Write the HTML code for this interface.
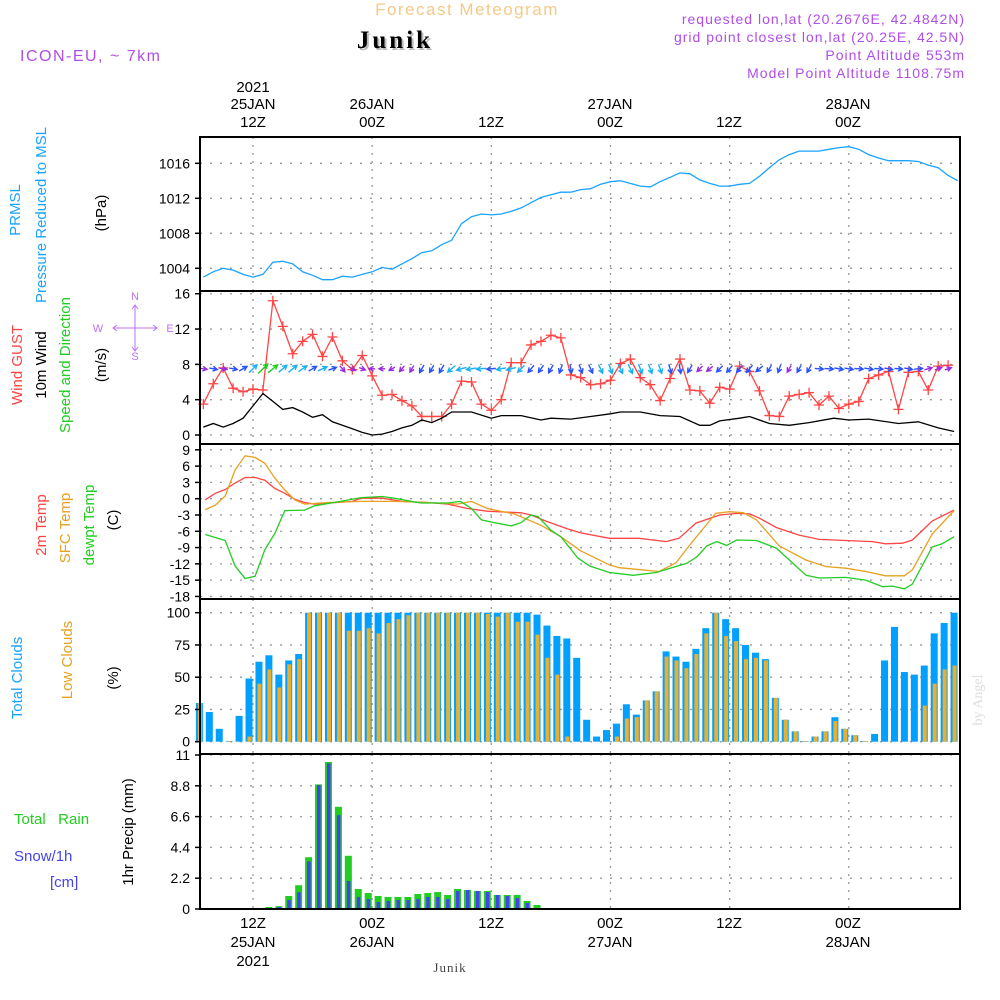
<!DOCTYPE html>
<html><head><meta charset="utf-8"><style>
html,body{margin:0;padding:0;background:#fff;}
svg{display:block;font-family:"Liberation Sans",sans-serif;}
</style></head><body>
<svg id="chart" width="1000" height="1000" viewBox="0 0 1000 1000">
<text x="467" y="15" text-anchor="middle" font-size="17" fill="#f5c98a" letter-spacing="1.5">Forecast Meteogram</text>
<text x="397" y="50" text-anchor="middle" font-size="25" font-weight="bold" fill="#bbb" font-family="Liberation Serif, serif" letter-spacing="3">Junik</text>
<text x="395" y="48" text-anchor="middle" font-size="25" font-weight="bold" fill="#000" font-family="Liberation Serif, serif" letter-spacing="3">Junik</text>
<text x="20" y="61" font-size="16" fill="#b04ee8" letter-spacing="1.5">ICON-EU, ~ 7km</text>
<g font-size="14" fill="#b04ee8" text-anchor="end" letter-spacing="1">
<text x="965" y="24">requested lon,lat (20.2676E, 42.4842N)</text>
<text x="965" y="42">grid point closest lon,lat (20.25E, 42.5N)</text>
<text x="965" y="60">Point Altitude 553m</text>
<text x="965" y="78">Model Point Altitude 1108.75m</text>
</g>
<g id="grid"></g>
<g id="marks"></g>
<g id="frames"></g>
<g id="labels"></g>
<g font-size="15" fill="#000" text-anchor="middle">
<text x="253" y="92">2021</text><text x="253" y="109">25JAN</text><text x="253" y="127">12Z</text>
<text x="372" y="109">26JAN</text><text x="372" y="127">00Z</text>
<text x="491" y="127">12Z</text>
<text x="610" y="109">27JAN</text><text x="610" y="127">00Z</text>
<text x="729" y="127">12Z</text>
<text x="848" y="109">28JAN</text><text x="848" y="127">00Z</text>
</g>
<g font-size="15" fill="#000" text-anchor="middle">
<text x="253" y="928">12Z</text><text x="253" y="947">25JAN</text><text x="253" y="966">2021</text>
<text x="372" y="928">00Z</text><text x="372" y="947">26JAN</text>
<text x="491" y="928">12Z</text>
<text x="610" y="928">00Z</text><text x="610" y="947">27JAN</text>
<text x="729" y="928">12Z</text>
<text x="848" y="928">00Z</text><text x="848" y="947">28JAN</text>
</g>
<text x="450" y="972" text-anchor="middle" font-size="13" font-family="Liberation Serif, serif" fill="#444" letter-spacing="1">Junik</text>
<text transform="rotate(-90 982 700)" x="982" y="700" text-anchor="middle" font-size="14" font-family="Liberation Serif, serif" fill="#ddd">by Angel</text>
<g font-size="15">
<text x="14" y="824" fill="#22cc22">Total &#160;&#160;Rain</text>
<text x="14" y="861" fill="#4444ee">Snow/1h</text>
<text x="50" y="887" fill="#4444ee">[cm]</text>
</g>
<g font-size="11" fill="#c070f0" text-anchor="middle">
<text x="135" y="300">N</text>
<text x="135" y="360">S</text>
<text x="98" y="332">W</text>
<text x="170" y="332">E</text>
<path d="M113 328H157M117 325L113 328L117 331M153 325L157 328L153 331M135 306V350M132 309L135 305L138 309M132 347L135 351L138 347" fill="none" stroke="#c070f0" stroke-width="1"/>
</g>
</svg>
<script>
const NS = "http://www.w3.org/2000/svg";
// ---------- data ----------
const pressHours = [7,8,9,10,11,12,13,14,15,16,17,18,19,20,21,22,23,24,25,26,27,28,29,30,31,32,33,34,35,36,37,38,39,40,41,42,43,44,45,46,47,48,49,50,51,52,53,54,55,56,57,58,59,60,61,62,63,64,65,66,67,68,69,70,71,72,73,74,75,76,77,78,79,80,81,82,83];
const pressVals = [1003.0,1003.6,1004.0,1003.8,1003.3,1003.0,1003.3,1004.7,1004.8,1004.5,1003.6,1003.2,1002.7,1002.7,1003.1,1003.0,1003.3,1003.6,1004.1,1003.9,1004.5,1005.1,1005.8,1006.0,1006.7,1007.2,1009.1,1009.9,1010.2,1010.1,1010.2,1010.5,1010.9,1011.5,1012.1,1012.4,1012.7,1012.7,1013.0,1013.1,1013.6,1013.9,1014.0,1013.7,1013.4,1013.3,1013.9,1014.4,1014.9,1014.8,1014.1,1013.7,1013.4,1013.4,1013.6,1013.7,1014.5,1015.5,1016.4,1017.0,1017.4,1017.4,1017.4,1017.6,1017.8,1017.9,1017.6,1017.0,1016.6,1016.3,1016.3,1016.3,1016.2,1015.8,1015.5,1014.6,1014.0];
const gustHours = [7,8,9,10,11,12,13,14,15,16,17,18,19,20,21,22,23,24,25,26,27,28,29,30,31,32,33,34,35,36,37,38,39,40,41,42,43,44,45,46,47,48,49,50,51,52,53,54,55,56,57,58,59,60,61,62,63,64,65,66,67,68,69,70,71,72,73,74,75,76,77,78,79,80,81,82];
const gustVals = [3.5,5.8,7.6,5.3,4.9,5.2,5.1,15.2,12.3,9.2,10.6,11.4,8.9,11.1,8.4,7.4,9.0,6.7,4.5,4.6,3.9,3.3,2.1,2.1,2.1,3.5,6.1,6.0,3.5,2.8,4.0,8.2,8.2,10.2,10.6,11.3,11.0,6.8,6.5,5.7,5.8,6.2,8.1,8.6,6.5,5.7,3.9,6.4,8.6,5.1,5.0,3.6,5.4,5.2,7.8,7.2,5.0,2.2,2.1,4.4,4.6,4.8,3.4,4.4,3.0,3.5,3.8,6.4,6.8,7.2,2.9,7.1,7.2,5.1,7.8,7.9];
const windHours = [7,8,9,10,11,13,14,15,16,17,18,19,20,21,22,23,24,25,26,27,28,29,30,31,32,34,36,37,39,41,42,44,46,48,49,51,53,55,57,58,59,61,62,64,66,68,70.5,72,74,77,79,81,82.6];
const windVals = [0.9,1.3,0.9,1.3,1.9,4.7,3.8,2.9,3.1,2.6,2.0,2.3,1.5,1.1,0.7,0.3,0.0,0.1,0.4,0.8,1.1,1.7,1.4,1.9,2.6,2.6,1.9,2.2,2.2,1.7,1.9,1.8,2.1,2.4,2.6,2.6,2.2,2.1,1.1,1.1,1.6,1.9,2.1,1.3,1.1,1.4,1.9,1.7,1.8,1.3,1.5,0.8,0.4];
const windDirs = [280,280,280,280,240,225,225,230,230,230,235,240,245,250,320,300,290,90,90,60,40,30,30,30,30,50,75,80,85,85,80,75,45,40,35,30,20,350,340,335,335,340,335,335,340,340,340,345,350,30,45,50,45,40,40,40,50,30,20,30,30,30,275,275,280,280,275,280,275,280,275,280,265,255,250,250];
const t2mHours = [7.2,8.2,9.2,10.2,11.2,12.2,13.2,14.2,15.2,16.2,17.2,18.2,22,22.9,25,27,29.6,31.6,33.6,35.6,39,40,41.6,43.6,45,47.9,50.9,53.6,54.9,56.6,59,60.7,62,63,64.7,67,69,71.7,74.4,75.7,77.4,78.4,80.4,82.6];
const t2mVals = [-0.2,1.0,1.7,2.9,3.9,3.9,3.4,1.9,1.0,-0.1,-0.7,-1.0,-0.5,0.1,0.1,-0.5,-0.7,-1.0,-1.8,-2.3,-2.6,-3.0,-4.2,-5.5,-6.3,-7.3,-7.3,-7.9,-7.3,-4.5,-3.0,-2.7,-2.8,-3.6,-5.3,-6.7,-7.5,-7.7,-7.9,-8.3,-8.2,-7.6,-4.1,-2.1];
const sfcHours = [7.2,8.2,9.2,10.2,11.2,12.2,13.2,14.2,15.2,16.2,17.2,19.5,22.9,26.2,29.6,32.6,34,35.6,38.3,41,43,45,47.9,48.9,52.9,54.6,56,58.6,60,61.4,62.7,65,67.7,69.7,71.7,73.7,75.7,77.6,78.4,80.4,82.6];
const sfcVals = [-2.0,-1.2,0.5,5.3,7.9,7.6,6.5,3.8,1.6,-0.2,-1.0,-0.7,-0.5,-0.5,-0.7,-1.0,-0.5,-1.8,-2.8,-4.9,-7.0,-9.6,-12.2,-12.7,-13.4,-11.8,-8.5,-2.7,-2.4,-2.6,-3.9,-8.7,-11.3,-12.5,-12.8,-13.4,-14.2,-14.2,-13.1,-6.5,-2.2];
const dewHours = [7.2,9.2,10.2,11.2,12.2,13.2,14.2,15.2,17.2,18.2,20.8,22.9,25,26.2,28.9,31.6,32.9,34,35,36.3,38,39,40,40.7,42,43,44.7,45.9,47.9,50.3,52.6,54,55.7,56.7,57.7,58.7,59.7,60.7,62.7,64.7,67.7,69,71.7,73.7,75.4,76.4,77.6,78.4,80.4,81.4,82.6];
const dewVals = [-6.6,-7.7,-12.4,-14.7,-14.3,-9.4,-6.4,-2.2,-2.1,-1.3,-0.5,0.2,0.4,0.1,-0.8,-0.8,-0.5,-1.8,-3.9,-4.4,-5.0,-4.4,-3.0,-3.3,-5.8,-7.0,-10.9,-12.4,-13.6,-14.1,-13.6,-12.8,-11.9,-10.7,-8.7,-7.9,-8.6,-7.6,-7.7,-9.1,-14.1,-14.6,-14.5,-15.0,-16.2,-16.1,-16.6,-15.7,-8.9,-8.3,-7.0];
const totalClouds = [30,23,10,0.5,20,49,62,67,52,63,68,100,100,100,100,100,100,100,100,100,100,100,100,100,100,100,100,100,100,100,100,100,100,100,98.5,90,82,80,65,17,4,9,14,29,21,32,39,70,66,62,72,88,100,95,88,75,69,64,34,17,8,0.5,4,8,19,10,5,0.5,6,63,89,54,52,59,84,92,100];
const lowClouds = [30,0,0,0.5,0,4,45,56,42,60,64,100,100,100,100,86,86,88,84,92,95,98,100,100,100,100,100,100,100,99,97,100,93,93,83,65,52,4,0,0,0,0,4,18,19,32,39,66,63,57,68,84,100,82,78,64,65,63,34,17,8,0.5,4,8,16,10,5,0.5,0,0,0,0,0,28,45,56,59];
const rainVals = [0,0,0,0,0,0,0,0.14,0.2,0.93,1.7,3.7,8.9,10.5,7.3,3.8,1.43,1.14,0.93,0.86,0.86,0.86,1.07,1.14,1.21,1.0,1.43,1.36,1.29,1.29,1.0,1.0,1.0,0.57,0.29,0,0,0,0,0,0,0,0,0,0,0,0,0,0,0,0,0,0,0,0,0,0,0,0,0,0,0,0,0,0,0,0,0,0,0,0,0,0,0,0,0,0];
const snowVals = [0,0,0,0,0,0,0,0.05,0.15,0.64,1.2,3.4,8.85,10.4,6.7,2.0,0.86,0.71,0.5,0.57,0.64,0.64,0.71,0.86,0.86,0.71,1.29,1.36,1.29,1.21,1.0,0.93,0.79,0.43,0,0,0,0,0,0,0,0,0,0,0,0,0,0,0,0,0,0,0,0,0,0,0,0,0,0,0,0,0,0,0,0,0,0,0,0,0,0,0,0,0,0,0];
const pressTicks = [1004,1008,1012,1016];
const windTicks = [0,4,8,12,16];
const tempTicks = [9,6,3,0,-3,-6,-9,-12,-15,-18];
const cloudTicks = [0,25,50,75,100];
const precipTicks = [0,2.2,4.4,6.6,8.8,11];
const timeTickHours = [12,24,36,48,60,72];

// ---------- scales ----------
const X0 = 200, X1 = 960;
function xS(h){ return 253 + (h - 12) * 9.93; }
function yP(v){ return 268.3 - (v - 1004) * 8.75; }
function yW(v){ return 435 - v * 8.83; }
function yT(v){ return 498.7 - v * 5.43; }
function yC(v){ return 741.7 - v * 1.29; }
function yR(v){ return 909 - v * 14; }
const barStart = 6.6;

const svg = document.getElementById('chart');
const grid = document.getElementById('grid');
const marks = document.getElementById('marks');
const frames = document.getElementById('frames');
const labels = document.getElementById('labels');
function mk(tag, attrs, parent){ const e = document.createElementNS(NS, tag); for (const k in attrs) e.setAttribute(k, attrs[k]); parent.appendChild(e); return e; }

const panels = [
  {top:137, bot:291, ticks:pressTicks, y:yP, fmt:v=>String(v), name:'pressure'},
  {top:291, bot:444, ticks:windTicks, y:yW, fmt:v=>String(v), name:'wind'},
  {top:444, bot:599, ticks:tempTicks, y:yT, fmt:v=>String(v), name:'temperature'},
  {top:599, bot:754, ticks:cloudTicks, y:yC, fmt:v=>String(v), name:'clouds'},
  {top:754, bot:909, ticks:precipTicks, y:yR, fmt:v=>String(v), name:'precip'}
];
panels.forEach(p => {
  p.ticks.forEach(t => {
    const yy = p.y(t);
    const g = mk('line', {x1:X0, x2:X1, y1:yy, y2:yy, stroke:'#999', 'stroke-width':1.3, 'stroke-dasharray':'2 8'}, grid);
    
    
    const tk = mk('line', {x1:X0-5, x2:X0, y1:yy, y2:yy, stroke:'#000', 'stroke-width':1.5}, frames);
    
    
    const tx = mk('text', {x:190, y:yy+5, 'text-anchor':'end', 'font-size':14, fill:'#000'}, labels);
    tx.textContent = p.fmt(t);
    
    
  });
  timeTickHours.forEach(h => {
    const g = mk('line', {x1:xS(h), x2:xS(h), y1:p.top, y2:p.bot, stroke:'#999', 'stroke-width':1.3, 'stroke-dasharray':'2 6'}, grid);
    
    
  });
  const f = mk('rect', {x:X0, y:p.top, width:X1-X0, height:p.bot-p.top, fill:'none', stroke:'#000', 'stroke-width':2}, frames);
  
  
});

function line(hours, vals, yf, color, name, w){
  const d = hours.map((h,i)=>(i?'L':'M')+xS(h).toFixed(1)+' '+yf(vals[i]).toFixed(1)).join(' ');
  const p = mk('path', {d:d, fill:'none', stroke:color, 'stroke-width':w||1.3}, marks);
  
  
}
line(pressHours, pressVals, yP, '#1aa3ff', 'pressure-line');
line(gustHours, gustVals, yW, '#ff4444', 'gust-line');
gustHours.forEach((h,i) => {
  const x = xS(h), y = yW(gustVals[i]);
  const m = mk('path', {d:`M${x-5} ${y}H${x+5}M${x} ${y-5}V${y+5}`, stroke:'#ff4444', 'stroke-width':1.3}, marks);
  
  
});
line(windHours, windVals, yW, '#000', 'wind-speed-line');
function interp(hs, vs, h){ if (h<=hs[0]) return vs[0]; for (let i=1;i<hs.length;i++){ if (h<=hs[i]) { const f=(h-hs[i-1])/(hs[i]-hs[i-1]); return vs[i-1]+f*(vs[i]-vs[i-1]); } } return vs[vs.length-1]; }
windDirs.forEach((dir,i) => {
  const h = 7 + i;
  const sp = interp(windHours, windVals, h);
  const col = sp < 1.2 ? '#9a2be2' : sp < 2.2 ? '#2850ff' : sp < 3.5 ? '#18b0f0' : '#18d018';
  const to = (dir + 180) * Math.PI / 180;
  const dx = Math.sin(to), dy = -Math.cos(to);
  const L = 6 + sp * 1.6;
  const cx = xS(h), cy = yW(7.5);
  const x1 = cx - dx*L/2, y1 = cy - dy*L/2, x2 = cx + dx*L/2, y2 = cy + dy*L/2;
  const a = Math.atan2(dy, dx);
  const hx1 = x2 - 5*Math.cos(a-0.5), hy1 = y2 - 5*Math.sin(a-0.5);
  const hx2 = x2 - 5*Math.cos(a+0.5), hy2 = y2 - 5*Math.sin(a+0.5);
  const ar = mk('path', {d:`M${x1} ${y1}L${x2} ${y2}M${hx1} ${hy1}L${x2} ${y2}L${hx2} ${hy2}`, fill:'none', stroke:col, 'stroke-width':1.4}, marks);
  
  
});
line(t2mHours, t2mVals, yT, '#ff4444', 't2m-line');
line(sfcHours, sfcVals, yT, '#e8a020', 'sfc-temp-line');
line(dewHours, dewVals, yT, '#22cc22', 'dewpoint-line');
totalClouds.forEach((v,i) => {
  const cx = xS(barStart + i);
  const b = mk('rect', {x:cx-3.5, y:yC(v), width:7, height:yC(0)-yC(v), fill:'#00a0ff'}, marks);
  
  
  const lv = lowClouds[i];
  const o = mk('rect', {x:cx-1.5, y:yC(lv), width:4, height:yC(0)-yC(lv), fill:'#e8b030'}, marks);
  
  
});
rainVals.forEach((v,i) => {
  if (v <= 0) return;
  const cx = xS(barStart + i);
  const b = mk('rect', {x:cx-3.5, y:yR(v), width:7, height:yR(0)-yR(v), fill:'#22cc22'}, marks);
  
  
  const s = snowVals[i];
  if (s > 0) {
    const o = mk('rect', {x:cx-1.5, y:yR(s), width:3.5, height:yR(0)-yR(s), fill:'#4444ee'}, marks);
    
    
  }
});

// rotated axis titles
const vtitles = [
  ['PRMSL', 20, 210, '#1aa3ff'], ['Pressure Reduced to MSL', 46, 215, '#1aa3ff'], ['(hPa)', 106, 213, '#000'],
  ['Wind GUST', 22, 365, '#ff4444'], ['10m Wind', 46, 365, '#000'], ['Speed and Direction', 70, 365, '#22cc22'], ['(m/s)', 106, 365, '#000'],
  ['2m Temp', 46, 525, '#ff4444'], ['SFC Temp', 70, 528, '#e8a020'], ['dewpt Temp', 94, 525, '#22cc22'], ['(C)', 118, 520, '#000'],
  ['Total Clouds', 22, 678, '#1aa3ff'], ['Low Clouds', 72, 660, '#e8a020'], ['(%)', 118, 678, '#000'],
  ['1hr Precip (mm)', 133, 832, '#000']
];
vtitles.forEach(t => {
  const e = mk('text', {x:t[1], y:t[2], transform:`rotate(-90 ${t[1]} ${t[2]})`, 'text-anchor':'middle', 'font-size':15, fill:t[3]}, labels);
  e.textContent = t[0];
  
  
});
</script>
</body></html>
